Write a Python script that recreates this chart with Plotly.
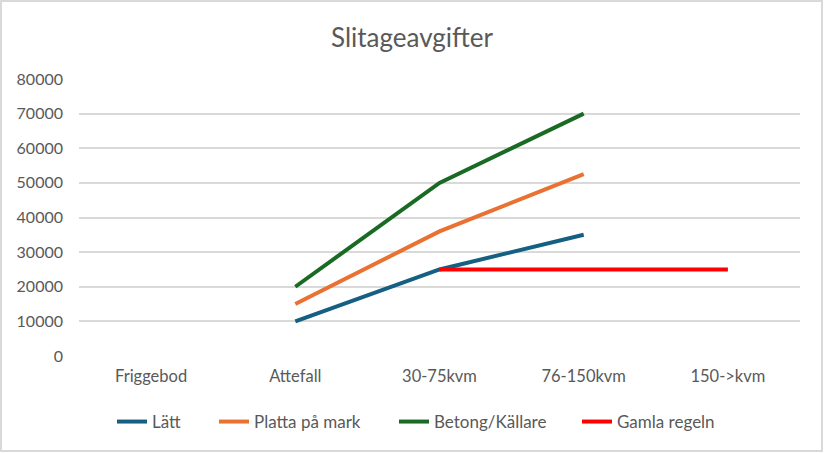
import plotly.graph_objects as go

# data
categories = ["Friggebod", "Attefall", "30-75kvm", "76-150kvm", "150->kvm"]
latt = [None, 10000, 25000, 35000, None]
platta = [None, 15000, 36000, 52500, None]
betong = [None, 20000, 50000, 70000, None]
gamla = [None, None, 25000, 25000, 25000]

series = [
    ("Lätt", latt, "#156082"),
    ("Platta på mark", platta, "#E97132"),
    ("Betong/Källare", betong, "#196B24"),
    ("Gamla regeln", gamla, "#FF0000"),
]
# pixel x where each legend label starts in the reference
legend_text_px = [157, 259, 439, 622]

W, H = 824, 453
ML, MR, MT, MB = 79, 24, 79, 97
FONT = "Lato, Noto Sans, sans-serif"
GREY = "#595959"
pw = W - ML - MR
ph = H - MT - MB

fig = go.Figure()
legends = {}
for i, (name, vals, col) in enumerate(series):
    lg = "legend" if i == 0 else f"legend{i + 1}"
    fig.add_trace(go.Scatter(
        x=categories, y=vals, name=name, mode="lines",
        line=dict(color=col, width=4), connectgaps=False,
        legend=lg,
    ))
    legends[lg] = dict(
        x=(legend_text_px[i] - 45 - ML) / pw, xanchor="left",
        y=-(422 - MT - ph) / ph, yanchor="middle",
        orientation="h", font=dict(size=17, color=GREY),
        itemwidth=30, bgcolor="rgba(0,0,0,0)",
    )

fig.update_layout(
    width=W, height=H,
    margin=dict(l=ML, r=MR, t=MT, b=MB),
    paper_bgcolor="white", plot_bgcolor="white",
    font=dict(family=FONT, color=GREY, size=16),
    title=dict(text="Slitageavgifter", x=0.5, xanchor="center",
               y=1 - 38 / H, yanchor="middle",
               font=dict(size=26, color=GREY, family=FONT)),
    xaxis=dict(type="category", showgrid=False, zeroline=False,
               showline=False, ticks="", range=[-0.5, 4.5],
               ticklabelstandoff=8,
               tickfont=dict(size=16.5, color=GREY)),
    yaxis=dict(range=[0, 80000], dtick=10000, showgrid=True,
               gridcolor="#D9D9D9", gridwidth=1.5, zeroline=False,
               showline=False, ticks="", tickformat="d",
               ticklabelstandoff=15,
               tickfont=dict(size=16, color=GREY)),
    showlegend=True,
    shapes=[dict(
        type="rect", xref="paper", yref="paper",
        x0=(1 - ML) / pw, x1=(822 - ML) / pw,
        y0=(ph + MT - 451) / ph, y1=(ph + MT - 1) / ph,
        line=dict(color="#D9D9D9", width=2), layer="below",
    )],
    **legends,
)

fig.write_html("out.html", config={"displayModeBar": False},
               post_script="document.body.style.margin='0';")
